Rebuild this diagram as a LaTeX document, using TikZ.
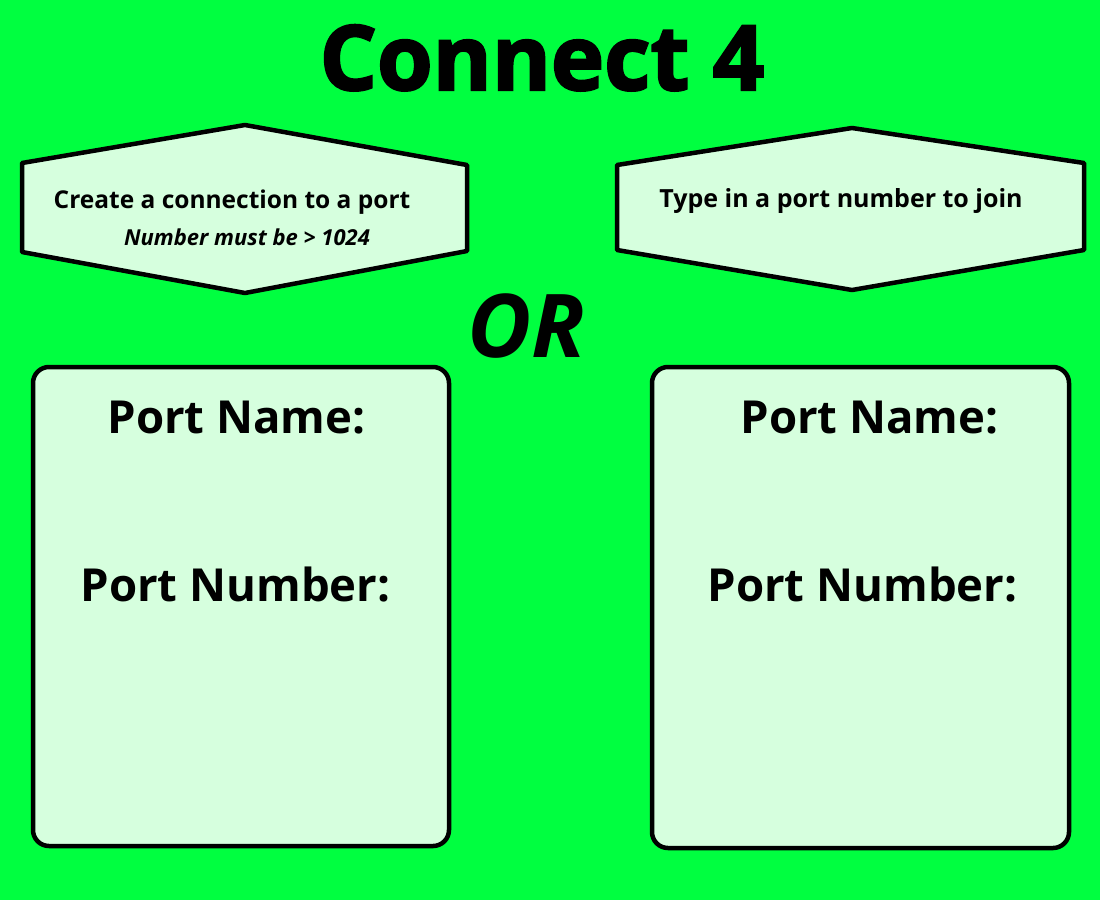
\documentclass[tikz,border=0pt]{standalone}
\usepackage{fontspec}
\setmainfont{Open Sans}
\newfontfamily\heavy{Open Sans}[BoldFeatures={FakeBold=2.5}]
\definecolor{bggreen}{RGB}{0,255,64}
\definecolor{boxfill}{RGB}{214,255,222}
\begin{document}
\begin{tikzpicture}[x=1pt,y=-1pt,
  panel/.style={draw=black, line width=4.5pt, fill=boxfill, line join=round},
  portbox/.style={panel, rounded corners=16pt, inner sep=0pt},
  hextext/.style={font=\fontsize{24.5}{28}\selectfont\bfseries, anchor=base, inner sep=0pt},
  porttext/.style={font=\fontsize{45.5}{52}\selectfont\bfseries, anchor=base, inner sep=0pt}]
\fill[bggreen] (0,0) rectangle (1100,900);
\useasboundingbox (0,0) rectangle (1100,900);

% title
\node[font=\fontsize{90}{100}\selectfont\heavy\bfseries, anchor=base, inner sep=0pt] (title) at (542,90) {Connect 4};

% left hexagon
\draw[panel] (22,163) -- (245,125) -- (467,165) -- (467,251) -- (245,293) -- (22,252) -- cycle;
\node[hextext] (create) at (232,208) {Create a connection to a port};
\node[hextext, font=\fontsize{22}{26}\selectfont\bfseries\itshape] (must) at (247,245) {Number must be > 1024};

% right hexagon
\draw[panel] (617,165) -- (852,128) -- (1084,163) -- (1084,250) -- (852,290) -- (617,250) -- cycle;
\node[hextext, font=\fontsize{25}{28}\selectfont\bfseries] (type) at (841,207) {Type in a port number to join};

% OR
\node[font=\fontsize{88}{96}\selectfont\heavy\bfseries\itshape, anchor=base, inner sep=0pt] (or) at (526,357) {OR};

% boxes
\node[portbox, minimum width=416pt, minimum height=479pt] (lbox) at (241,606.5) {};
\node[portbox, minimum width=417pt, minimum height=481pt] (rbox) at (860.5,607.5) {};

\node[porttext] (lname) at (236.5,433) {Port Name:};
\node[porttext] (lnum) at (235.5,601) {Port Number:};
\node[porttext] (rname) at (869.5,433) {Port Name:};
\node[porttext] (rnum) at (862.5,601) {Port Number:};
\end{tikzpicture}
\end{document}
